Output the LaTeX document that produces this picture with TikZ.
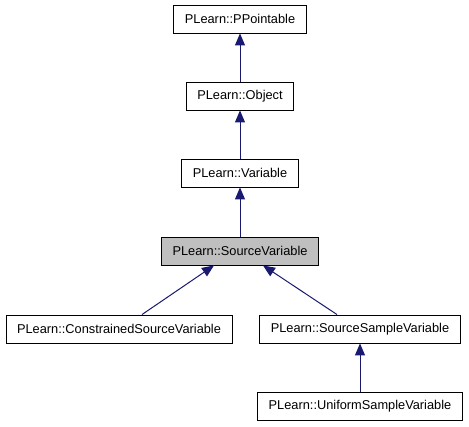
\documentclass[tikz,border=0pt]{standalone}
\usepackage{fontspec}
\setmainfont{Liberation Sans}
\usetikzlibrary{arrows.meta,positioning}
\usepackage{xcolor}
\definecolor{EdgeBlue}{HTML}{191970}
\definecolor{CurGray}{HTML}{BFBFBF}

\begin{document}
\begin{tikzpicture}[x=1pt,y=-1pt,font=\fontsize{12.8}{15}\selectfont,
    cls/.style={draw=black,fill=white,line width=0.9pt,
          minimum height=28pt,inner xsep=11pt,inner ysep=0pt},
    inherit/.style={EdgeBlue,line width=1pt,
          -{Triangle[length=12pt,width=10pt]}}]
    \useasboundingbox (0,0) rectangle (469,427);
    % class nodes
    \node[cls] (pp)  at (240,19)  {PLearn::PPointable};
    \node[cls] (obj) at (240,96)  {PLearn::Object};
    \node[cls] (var) at (240,173) {PLearn::Variable};
    \node[cls,fill=CurGray] (src) at (240,251) {PLearn::SourceVariable};
    \node[cls] (con) at (119,329) {PLearn::ConstrainedSourceVariable};
    \node[cls] (ssv) at (360,329) {PLearn::SourceSampleVariable};
    \node[cls] (usv) at (360,406) {PLearn::UniformSampleVariable};
    % inheritance edges
    \draw[inherit] (obj) -- (pp);
    \draw[inherit] (var) -- (obj);
    \draw[inherit] (src) -- (var);
    \draw[inherit] ([xshift=23pt]con.north) -- ([xshift=-26pt]src.south);
    \draw[inherit] ([xshift=-23pt]ssv.north) -- ([xshift=23pt]src.south);
    \draw[inherit] (usv) -- (ssv);
\end{tikzpicture}
\end{document}
